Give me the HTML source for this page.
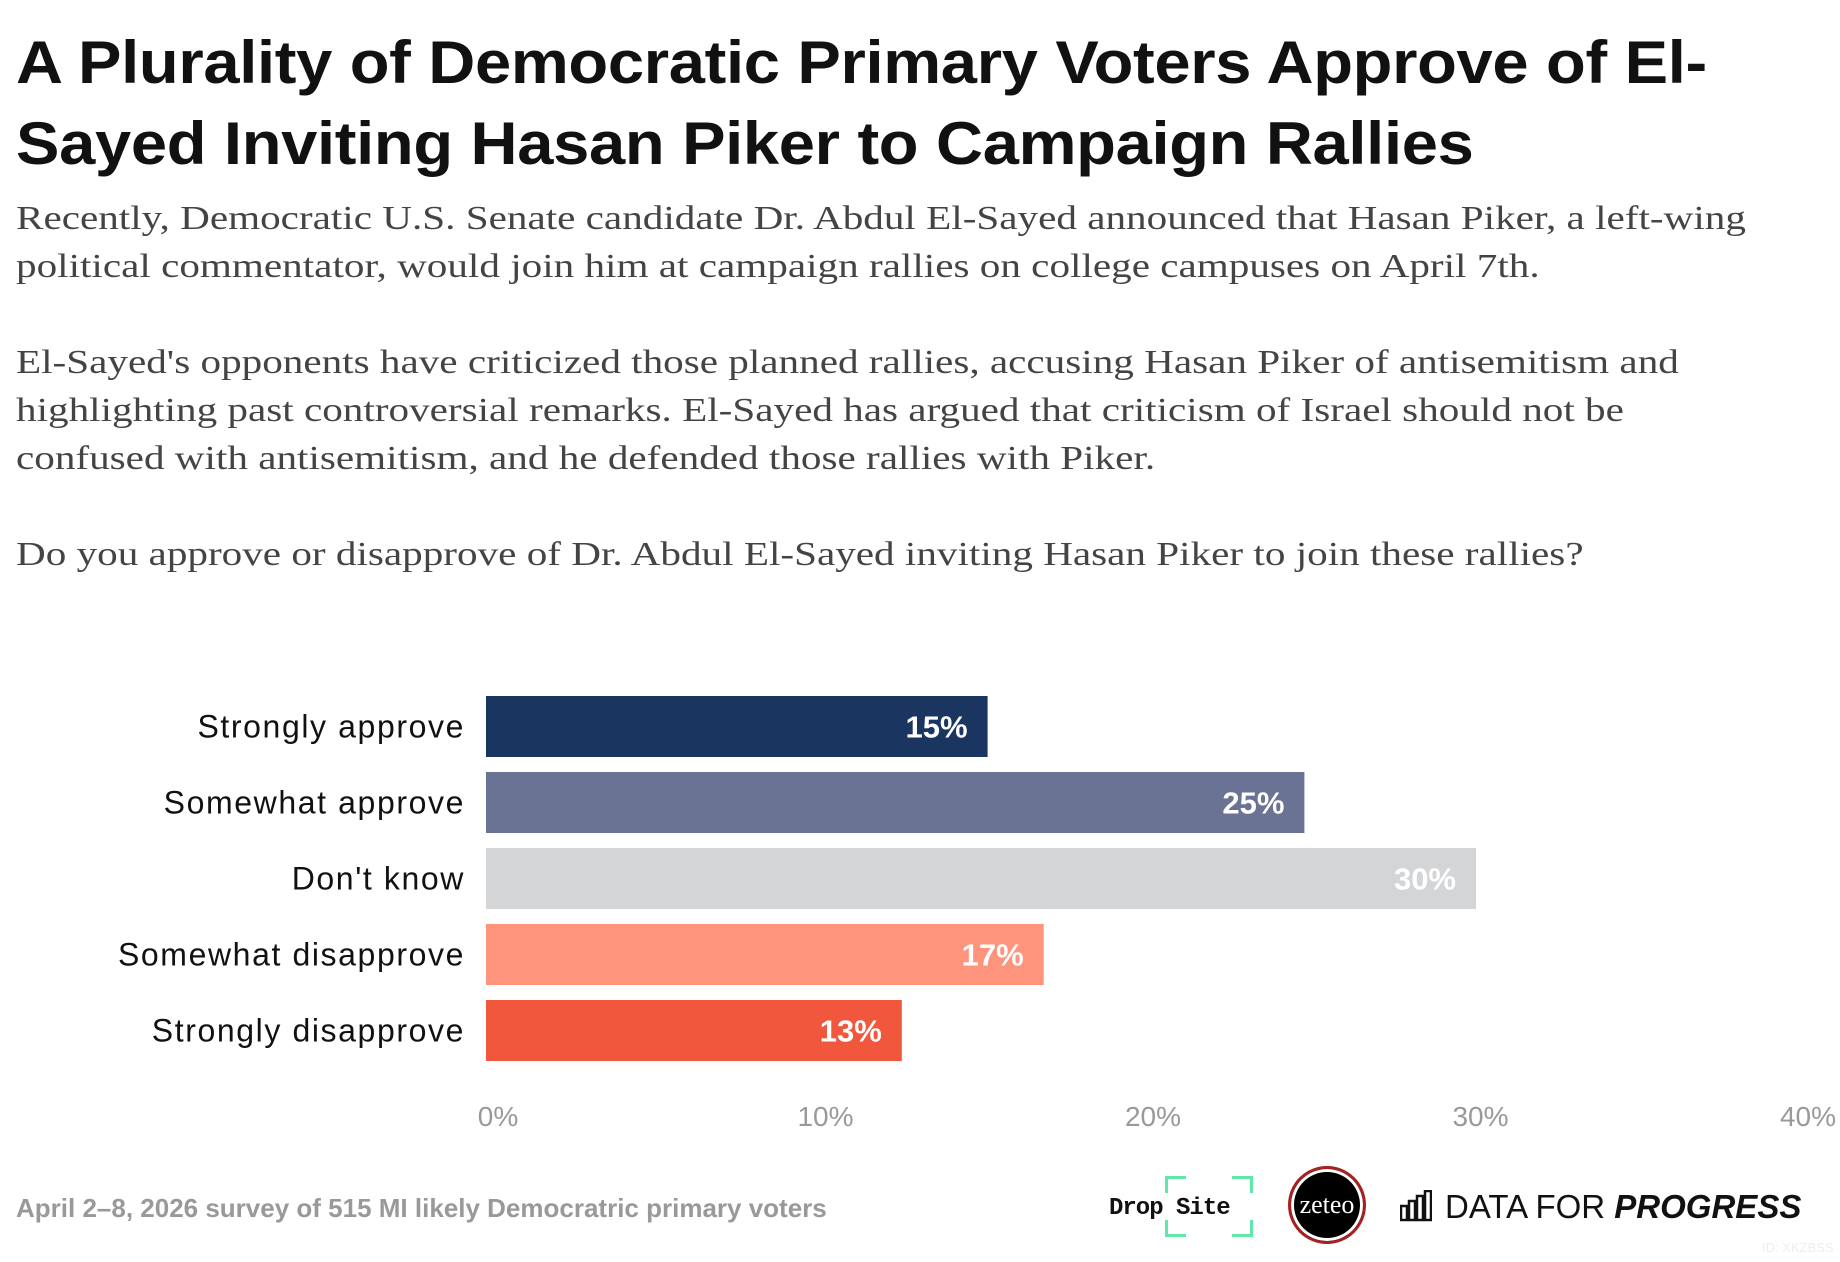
<!DOCTYPE html>
<html><head><meta charset="utf-8"><style>
body{margin:0;width:1840px;height:1262px;background:#fff;overflow:hidden;position:relative;font-family:"Liberation Sans",sans-serif}
.t{position:absolute;white-space:nowrap}
h1{position:absolute;left:16px;top:22px;margin:0;font:bold 60px/81px "Liberation Sans",sans-serif;color:#111;letter-spacing:-0.3px;transform:scaleX(1.085);transform-origin:left top;white-space:nowrap}
.sub{position:absolute;left:16px;font:34px/48px "Liberation Serif",serif;color:#444;margin:0;white-space:nowrap;transform:scaleX(1.21);transform-origin:left top}
</style></head><body>
<h1>A Plurality of Democratic Primary Voters Approve of El-<br>Sayed Inviting Hasan Piker to Campaign Rallies</h1>
<p class="sub" style="top:195px">Recently, Democratic U.S. Senate candidate Dr. Abdul El-Sayed announced that Hasan Piker, a left-wing<br>political commentator, would join him at campaign rallies on college campuses on April 7th.</p>
<p class="sub" style="top:339px">El-Sayed's opponents have criticized those planned rallies, accusing Hasan Piker of antisemitism and<br>highlighting past controversial remarks. El-Sayed has argued that criticism of Israel should not be<br>confused with antisemitism, and he defended those rallies with Piker.</p>
<p class="sub" style="top:531px">Do you approve or disapprove of Dr. Abdul El-Sayed inviting Hasan Piker to join these rallies?</p>
<svg id="chart" width="1840" height="1262" style="position:absolute;left:0;top:0"></svg>
<div class="t" style="left:16px;top:1193px;font-size:26px;font-weight:bold;color:#999">April 2–8, 2026 survey of 515 MI likely Democratric primary voters</div>
<div>
<div class="t" style="left:1165px;top:1176px;width:18px;height:14px;border-left:3px solid #5fe8a8;border-top:3px solid #5fe8a8"></div>
<div class="t" style="left:1232px;top:1176px;width:18px;height:14px;border-right:3px solid #5fe8a8;border-top:3px solid #5fe8a8"></div>
<div class="t" style="left:1165px;top:1220px;width:18px;height:14px;border-left:3px solid #5fe8a8;border-bottom:3px solid #5fe8a8"></div>
<div class="t" style="left:1232px;top:1220px;width:18px;height:14px;border-right:3px solid #5fe8a8;border-bottom:3px solid #5fe8a8"></div>
<div class="t" style="left:1109px;top:1195px;font:bold 24px 'Liberation Mono',monospace;color:#111;letter-spacing:-1px">Drop Site</div>
</div>
<div class="t" style="left:1288px;top:1166px;width:72px;height:72px;border-radius:50%;background:#000;border:3px solid #a82020;box-shadow:inset 0 0 0 3px #fff;color:#fff;font:26px/72px 'Liberation Serif',serif;text-align:center">zeteo</div>
<div>
<svg class="t" style="left:1400px;top:1190px" width="32" height="32"><g fill="none" stroke="#111" stroke-width="2.5"><rect x="1" y="16" width="6" height="14"/><rect x="9" y="11" width="6" height="19"/><rect x="17" y="6" width="6" height="24"/><rect x="25" y="1" width="6" height="29"/></g></svg>
<div class="t" style="left:1445px;top:1188px;font-size:33px;color:#111">DATA FOR <b><i>PROGRESS</i></b></div>
</div>
<div class="t" style="left:1762px;top:1240px;font-size:13px;color:#eee">ID: XKZBSS</div>
<script>
const categories=["Strongly approve","Somewhat approve","Don't know","Somewhat disapprove","Strongly disapprove"];
const values=[15.2,24.8,30,16.9,12.6];
const valueLabels=["15%","25%","30%","17%","13%"];
const colors=["#1b3561","#6a7394","#d4d5d7","#fe947b","#f0573c"];
const ticks=[0,10,20,30,40];
const svg=document.getElementById('chart');
const NS='http://www.w3.org/2000/svg';
const x0=486,pxPer=33.0,top0=696,pitch=76,bh=61;
const xs=v=>x0+v*pxPer;
const ys=i=>top0+i*pitch;
function mk(t,a){const e=document.createElementNS(NS,t);for(const k in a)e.setAttribute(k,a[k]);svg.appendChild(e);return e;}
categories.forEach((c,i)=>{
 const r=mk('rect',{x:x0,y:ys(i),width:xs(values[i])-x0,height:bh,fill:colors[i]});
 
 
 const l=mk('text',{x:465,y:ys(i)+bh/2+11,'text-anchor':'end','font-size':32,'letter-spacing':1.6,fill:'#111','font-family':'Liberation Sans, sans-serif'});
 l.textContent=c;
 
 
 const v=mk('text',{x:xs(values[i])-20,y:ys(i)+bh/2+11,'text-anchor':'end','font-size':31,'font-weight':'bold',fill:'#fff','font-family':'Liberation Sans, sans-serif'});
 v.textContent=valueLabels[i];
 
 
});
ticks.forEach(t=>{
 const e=mk('text',{x:xs(t)+12-t*0.25,y:1126,'text-anchor':'middle','font-size':28,fill:'#999','font-family':'Liberation Sans, sans-serif'});
 e.textContent=t+'%';
 
 
});
</script>
</body></html>
